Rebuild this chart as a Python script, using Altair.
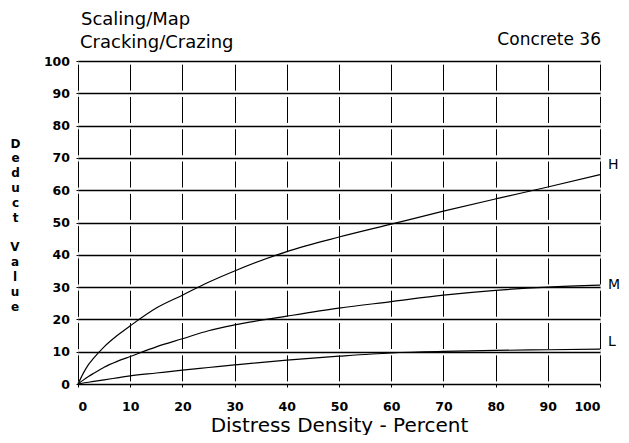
import altair as alt
import pandas as pd

density = [0, 1, 2, 3, 5, 7.5, 10, 15, 20, 25, 30, 40, 50, 60, 70, 80, 90, 100]
high = [0, 3.3, 6, 8, 11.5, 15, 18, 23.5, 27.5, 31.5, 35, 41, 45.5, 49.5, 53.5, 57.3, 61, 64.8]
medium = [0, 1.2, 2.3, 3.3, 5.2, 7, 8.5, 11.5, 14, 16.5, 18.3, 21, 23.5, 25.5, 27.5, 29, 30, 30.6]
low = [0, 0.3, 0.55, 0.8, 1.3, 1.9, 2.5, 3.4, 4.3, 5.1, 5.9, 7.4, 8.6, 9.6, 10.1, 10.4, 10.6, 10.8]

severities = ["H", "M", "L"]
label_x = [100, 100, 100]
label_y = [67.8, 30.6, 13]
ticks = [0, 10, 20, 30, 40, 50, 60, 70, 80, 90, 100]

rows = []
for sev, vals in zip(severities, [high, medium, low]):
    for x, y in zip(density, vals):
        rows.append({"density": x, "deduct": y, "severity": sev})
df = pd.DataFrame(rows)
labels = pd.DataFrame({"severity": severities, "x": label_x, "y": label_y})

W, H = 522, 323
FONT = "DejaVu Sans"

xscale = alt.Scale(domain=[0, 100], nice=False, zero=False)
yscale = alt.Scale(domain=[0, 100], nice=False, zero=False)

xaxis = alt.Axis(
    values=ticks, title="Distress Density - Percent", grid=True, domain=False,
    gridColor="black", gridWidth=1, gridDash=[26, 6.3], gridDashOffset=29.15, gridOpacity=1,
    tickColor="black", tickSize=3, tickWidth=1, labelPadding=13,
    labelFont=FONT, labelFontSize=12.5, labelFontWeight="bold", labelColor="black",
    titleFont=FONT, titleFontSize=20, titleFontWeight="normal", titleColor="black",
    titleX=261, titleY=47, titleBaseline="alphabetic", titleAlign="center",
)
yaxis = alt.Axis(
    values=ticks, grid=True, domain=False,
    title=["D", "e", "d", "u", "c", "t"],
    gridColor="black", gridWidth=1.5, gridOpacity=1,
    tickColor="black", tickSize=2, labelPadding=6.5,
    labelFont=FONT, labelFontSize=12.5, labelFontWeight="bold", labelColor="black",
    titleFont=FONT, titleFontSize=12, titleFontWeight="bold", titleColor="black",
    titleAngle=0, titleX=-63, titleY=82, titleAlign="center", titleBaseline="middle",
    titleLineHeight=14.9,
)

lines = alt.Chart(df).mark_line(color="black", strokeWidth=1.2, interpolate="monotone").encode(
    x=alt.X("density:Q", scale=xscale, axis=xaxis),
    y=alt.Y("deduct:Q", scale=yscale, axis=yaxis),
    detail="severity:N",
)

lab = alt.Chart(labels).mark_text(
    align="left", baseline="middle", dx=8, font=FONT, fontSize=14, color="black"
).encode(
    x=alt.X("x:Q", scale=xscale, axis=xaxis),
    y=alt.Y("y:Q", scale=yscale, axis=yaxis),
    text="severity:N",
)

one = pd.DataFrame({"a": [0]})
t1 = alt.Chart(one).mark_text(
    text="Scaling/Map", align="left", baseline="middle", font=FONT, fontSize=18, color="black"
).encode(x=alt.value(3), y=alt.value(-41))
t2 = alt.Chart(one).mark_text(
    text="Cracking/Crazing", align="left", baseline="middle", font=FONT, fontSize=18, color="black"
).encode(x=alt.value(2), y=alt.value(-18))
t3 = alt.Chart(one).mark_text(
    text="Concrete 36", align="right", baseline="middle", font=FONT, fontSize=17, color="black"
).encode(x=alt.value(523), y=alt.value(-21))
t4 = alt.Chart(one).mark_text(
    text=["V", "a", "l", "u", "e"], align="center", baseline="middle", font=FONT,
    fontSize=12, fontWeight="bold", lineHeight=14.9, color="black"
).encode(x=alt.value(-63), y=alt.value(186))

chart = alt.layer(lines, lab, t1, t2, t3, t4).properties(
    width=W, height=H,
    autosize=alt.AutoSizeParams(type="none"),
    padding={"left": 70, "top": 53, "right": 21, "bottom": 51},
).configure_view(stroke=None).configure(background="white")

chart.save("out.html", embed_options={"renderer": "svg", "actions": False})
